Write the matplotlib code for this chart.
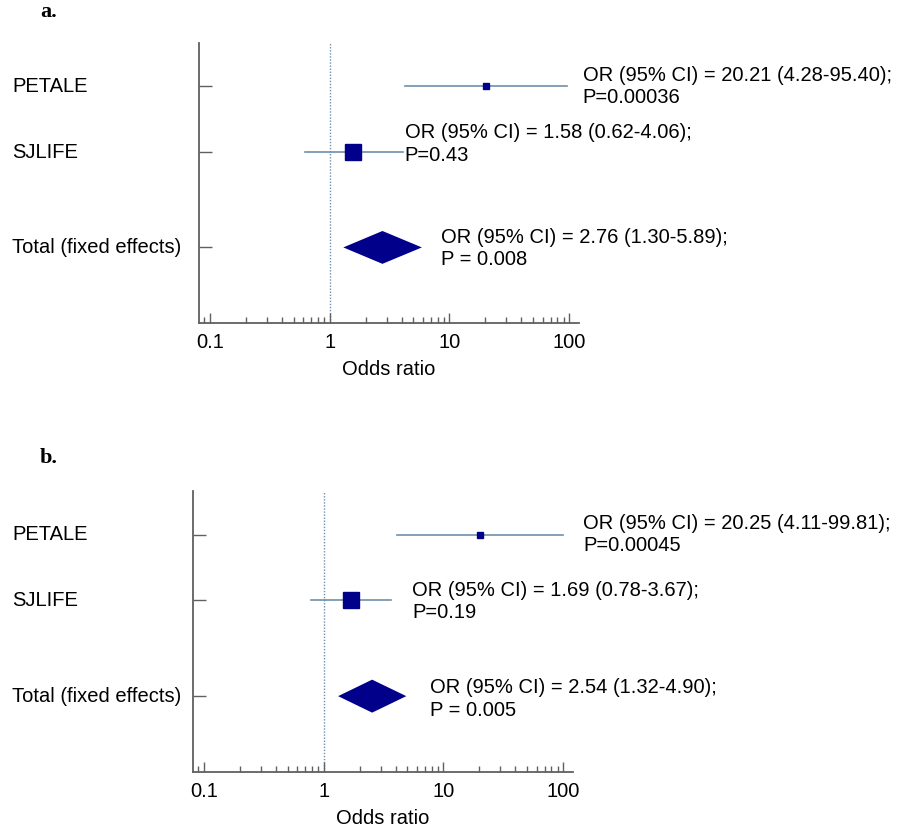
import matplotlib
matplotlib.use("Agg")
import matplotlib.pyplot as plt
import numpy as np
from matplotlib.transforms import blended_transform_factory
from matplotlib.ticker import LogLocator, NullFormatter

plt.rcParams['font.family'] = ['Liberation Sans', 'DejaVu Sans']

rows = ["PETALE", "SJLIFE", "Total (fixed effects)"]

a_or = [20.21, 1.58, 2.76]
a_lo = [4.28, 0.62, 1.30]
a_hi = [95.40, 4.06, 5.89]
a_p = ["P=0.00036", "P=0.43", "P = 0.008"]

b_or = [20.25, 1.69, 2.54]
b_lo = [4.11, 0.78, 1.32]
b_hi = [99.81, 3.67, 4.90]
b_p = ["P=0.00045", "P=0.19", "P = 0.005"]

xticks = [0.1, 1, 10, 100]
xticklabels = ["0.1", "1", "10", "100"]

NAVY = "#00008a"
LINEC = "#6f8fad"
SPINE = "#606060"
FS = 14.5

fig = plt.figure(figsize=(9, 8.35), dpi=100)

def panel(rect, ors, los, his, ps, label, label_y, txt_dx, txt_dy):
    ax = fig.add_axes(rect)
    ypos = [0, 1, 2.45]
    ax.set_xscale('log')
    ax.set_xlim(0.081, 121)
    ax.set_ylim(3.6, -0.66)
    ax.axvline(1, color=LINEC, ls=(0, (1, 1.2)), lw=1.0, zorder=1)
    sizes = [5, 12]
    for i in range(2):
        ax.plot([los[i], his[i]], [ypos[i]] * 2, color=LINEC, lw=1.2, zorder=2)
        ax.plot([ors[i]], [ypos[i]], marker='s', ms=sizes[i], color=NAVY,
                mec=NAVY, ls='none', zorder=3)
    yc = ypos[2]
    h = 0.25
    ax.fill([los[2], ors[2], his[2], ors[2]], [yc, yc - h, yc, yc + h],
            color=NAVY, zorder=3, lw=0)
    for i in range(3):
        txt = f"OR (95% CI) = {ors[i]:.2f} ({los[i]:.2f}-{his[i]:.2f});\n{ps[i]}"
        ax.annotate(txt, xy=(his[i], ypos[i]), xytext=(txt_dx[i], txt_dy[i]),
                    textcoords='offset pixels', ha='left', va='center',
                    fontsize=FS, linespacing=1.22, annotation_clip=False)
    for s in ['top', 'right']:
        ax.spines[s].set_visible(False)
    for s in ['left', 'bottom']:
        ax.spines[s].set_color(SPINE)
        ax.spines[s].set_linewidth(1.3)
    ax.set_xticks(xticks)
    ax.set_xticklabels(xticklabels, fontsize=FS)
    ax.xaxis.set_minor_locator(LogLocator(base=10, subs=np.arange(2, 10)))
    ax.xaxis.set_minor_formatter(NullFormatter())
    ax.tick_params(axis='x', which='major', direction='in', length=7, width=1,
                   color=SPINE, pad=7)
    ax.tick_params(axis='x', which='minor', direction='in', length=4, width=1,
                   color=SPINE)
    ax.set_yticks(ypos)
    ax.set_yticklabels([])
    ax.tick_params(axis='y', direction='in', length=9, width=1, color=SPINE)
    ax.set_xlabel("Odds ratio", fontsize=FS, labelpad=6)
    tr = blended_transform_factory(fig.transFigure, ax.transData)
    for i in range(3):
        ax.text(12 / 900, ypos[i], rows[i], transform=tr, ha='left',
                va='center', fontsize=FS)
    fig.text(40 / 900, label_y, label, fontsize=16, fontweight='bold',
             family='Liberation Serif', va='center', ha='left')
    return ax

panel([199 / 900, 1 - 323 / 835, 380 / 900, 280 / 835], a_or, a_lo, a_hi, a_p,
      "a.", 1 - 12 / 835, [16, 2, 19], [0, 8, -1])
panel([193 / 900, 1 - 772 / 835, 380 / 900, 281 / 835], b_or, b_lo, b_hi, b_p,
      "b.", 1 - 458 / 835, [20, 21, 24], [0, -1, -3])

fig.savefig("out.png", dpi=100)
